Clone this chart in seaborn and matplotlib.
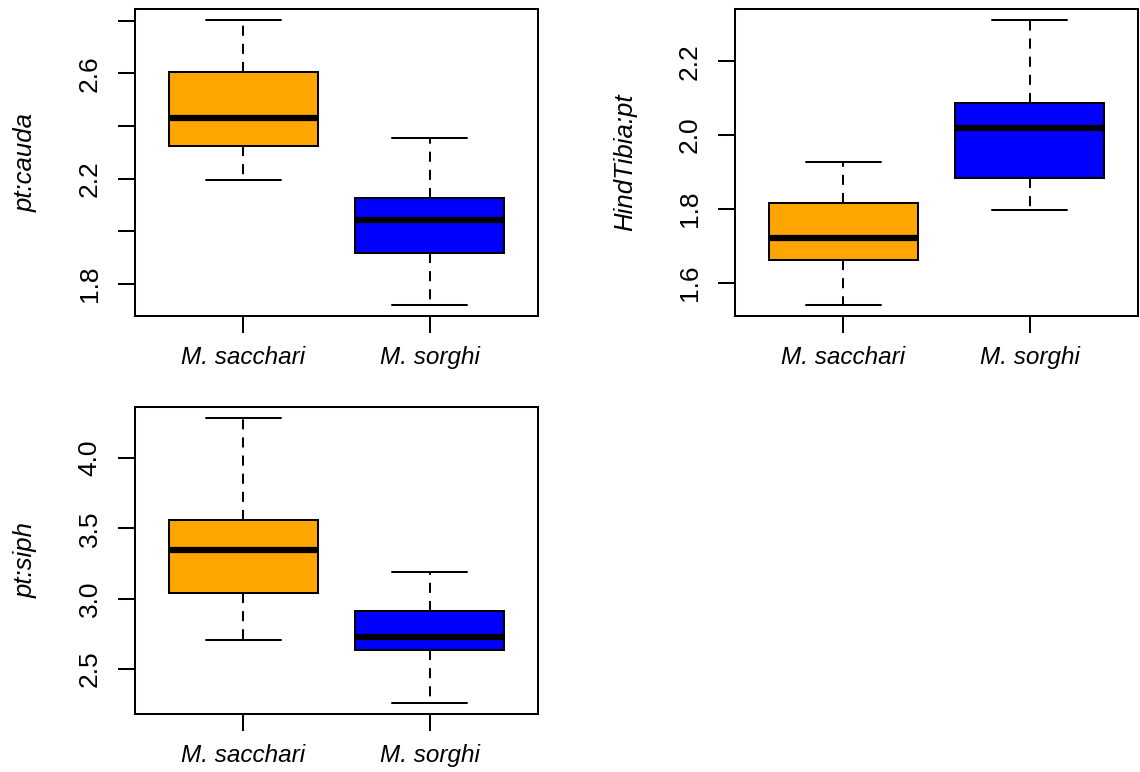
import numpy as np
import pandas as pd
import matplotlib
matplotlib.use("Agg")
import matplotlib.pyplot as plt
import seaborn as sns

# Five-number summaries (min, Q1, median, Q3, max)
species = ["M. sacchari", "M. sorghi"]
box_colors = ["#FFA500", "#0000FF"]

cauda_sacchari = [2.196, 2.325, 2.429, 2.605, 2.802]
cauda_sorghi = [1.720, 1.918, 2.042, 2.127, 2.355]

hind_sacchari = [1.541, 1.661, 1.722, 1.817, 1.928]
hind_sorghi = [1.797, 1.885, 2.020, 2.087, 2.311]

siph_sacchari = [2.705, 3.042, 3.349, 3.557, 4.282]
siph_sorghi = [2.260, 2.633, 2.726, 2.910, 3.187]

ylabels = ["pt:cauda", "HindTibia:pt", "pt:siph"]
cauda_ticks = [1.8, 2.0, 2.2, 2.4, 2.6, 2.8]
cauda_ticklabels = ["1.8", "", "2.2", "", "2.6", ""]
hind_ticks = [1.6, 1.8, 2.0, 2.2]
hind_ticklabels = ["1.6", "1.8", "2.0", "2.2"]
siph_ticks = [2.5, 3.0, 3.5, 4.0]
siph_ticklabels = ["2.5", "3.0", "3.5", "4.0"]

sns.set_theme(style="white")
plt.rcParams["font.family"] = ["Liberation Sans", "DejaVu Sans"]

FS_TICK = 19
FS_LAB = 18.5
FS_X = 17.5
LW = 1.45

fig = plt.figure(figsize=(11.4, 7.72), dpi=100)
rects = [
    [135 / 1140, 1 - 316 / 772, 403 / 1140, 307 / 772],
    [735 / 1140, 1 - 316 / 772, 403 / 1140, 307 / 772],
    [135 / 1140, 1 - 714 / 772, 403 / 1140, 307 / 772],
]
panels = [
    (ylabels[0], cauda_sacchari, cauda_sorghi, cauda_ticks, cauda_ticklabels),
    (ylabels[1], hind_sacchari, hind_sorghi, hind_ticks, hind_ticklabels),
    (ylabels[2], siph_sacchari, siph_sorghi, siph_ticks, siph_ticklabels),
]

for rect, (lab, a, b, ticks, ticklabels) in zip(rects, panels):
    ax = fig.add_axes(rect)
    df = pd.DataFrame({
        "species": [species[0]] * len(a) + [species[1]] * len(b),
        "value": a + b,
    })
    sns.boxplot(
        data=df, x="species", y="value", hue="species", order=species,
        hue_order=species, palette=box_colors, saturation=1, legend=False,
        whis=(0, 100), width=0.8, linecolor="black", linewidth=LW,
        showfliers=False,
        medianprops=dict(linewidth=4.5, color="black", solid_capstyle="butt"),
        whiskerprops=dict(linestyle=(0, (5, 4)), linewidth=LW, color="black"),
        capprops=dict(linestyle="-", linewidth=LW, color="black"),
        ax=ax,
    )
    vals = a + b
    lo, hi = min(vals), max(vals)
    r = hi - lo
    ax.set_ylim(lo - 0.04 * r, hi + 0.04 * r)
    ax.set_xlim(-0.58, 1.58)

    ax.set_yticks(ticks)
    ax.set_yticklabels(ticklabels, rotation=90, va="center", fontsize=FS_TICK)
    ax.set_xticks([0, 1])
    ax.set_xticklabels(species, fontstyle="italic", fontsize=FS_X)
    ax.tick_params(axis="both", direction="out", length=12, width=LW,
                   color="black", labelcolor="black", left=True, bottom=True)
    ax.tick_params(axis="y", pad=12)
    ax.tick_params(axis="x", pad=9.5)
    ax.set_xlabel("")
    ax.set_ylabel(lab, fontstyle="italic", fontsize=FS_LAB, color="black")
    ax.yaxis.set_label_coords(-0.242, 0.5)
    for sp in ax.spines.values():
        sp.set_visible(True)
        sp.set_color("black")
        sp.set_linewidth(LW)

fig.savefig("out.png", dpi=100, facecolor="white")
